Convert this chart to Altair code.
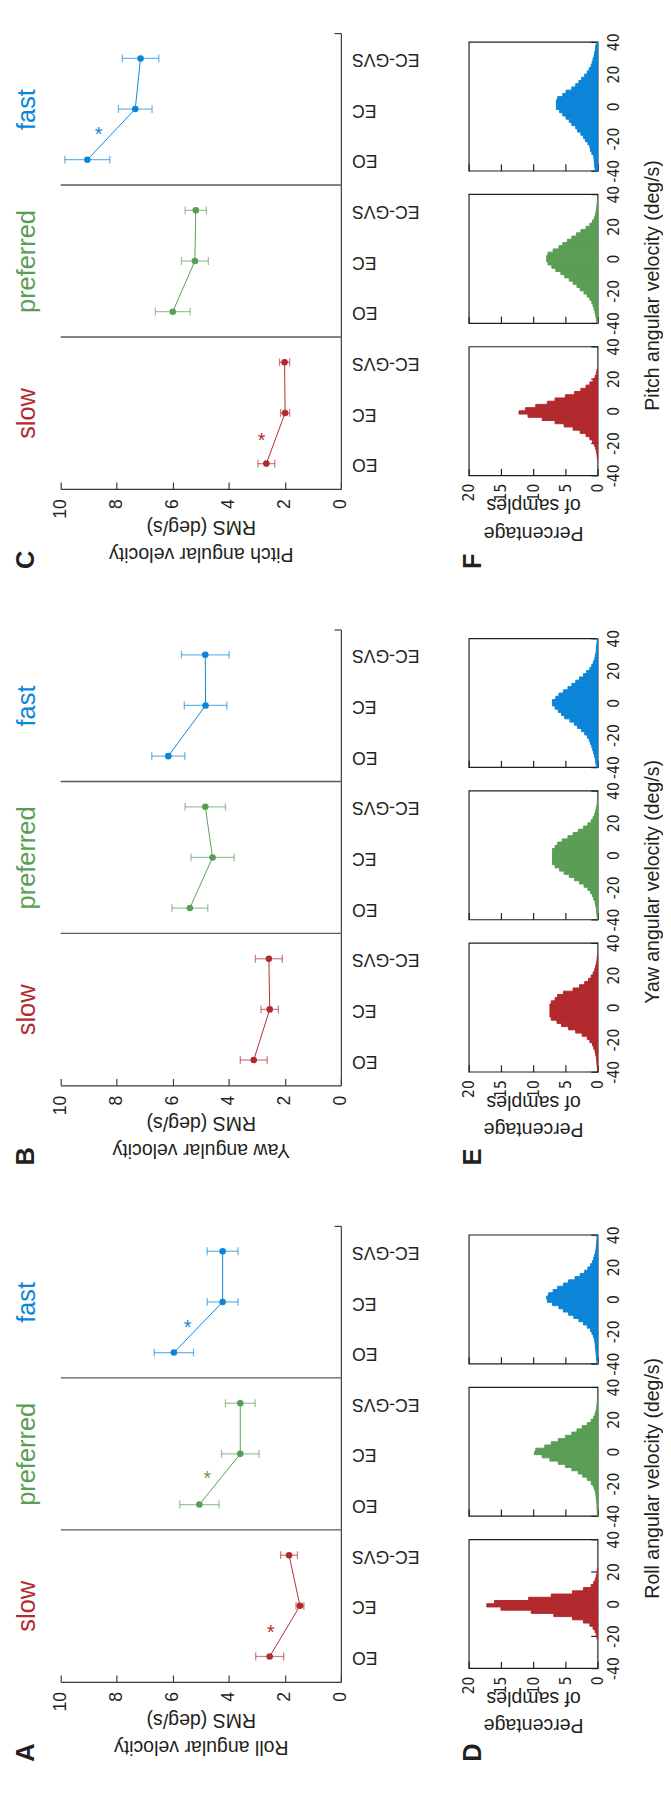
import altair as alt
import pandas as pd

FONT = "Liberation Sans"
NARROW = "Liberation Sans Narrow, DejaVu Sans Condensed, Liberation Sans"
INK = "#231F20"
AXIS = "#3A3A3A"

groups = ["slow", "preferred", "fast"]
conditions = ["EO", "EC", "EC-GVS"]
group_colors = ["#B2292E", "#5A9E55", "#0B85D7"]

# RMS angular velocity (deg/s): order slow EO, EC, EC-GVS, preferred EO, EC, EC-GVS, fast EO, EC, EC-GVS
roll_mean = [2.54, 1.46, 1.85, 5.05, 3.59, 3.59, 5.96, 4.22, 4.22]
roll_err = [0.50, 0.14, 0.30, 0.70, 0.67, 0.53, 0.70, 0.55, 0.55]
yaw_mean = [3.11, 2.54, 2.57, 5.39, 4.58, 4.84, 6.16, 4.83, 4.84]
yaw_err = [0.48, 0.31, 0.48, 0.64, 0.77, 0.72, 0.59, 0.76, 0.85]
pitch_mean = [2.66, 1.99, 2.01, 6.00, 5.21, 5.18, 9.05, 7.34, 7.15]
pitch_err = [0.30, 0.16, 0.18, 0.62, 0.48, 0.38, 0.80, 0.60, 0.65]

# significance markers: group, value, position
roll_star_group = ["slow", "preferred", "fast"]
roll_star_x = [2.50, 4.77, 5.47]
roll_star_y = [0.56, 3.60, 6.58]
pitch_star_group = ["slow", "fast"]
pitch_star_x = [2.83, 8.65]
pitch_star_y = [0.54, 6.59]

# histogram bins (deg/s, 2 deg/s wide from -40 to 40) and percentage of samples per bin
BIN_EDGES = list(range(-40, 41, 2))
roll_slow = [0, 0, 0, 0, 0, 0, 0, 0, 0, 0.1, 0.2, 0.4, 0.7, 1.2, 2.2, 3.9, 6.8, 10.3, 15.0, 17.2,
             16.0, 10.7, 7.2, 3.9, 2.2, 1.0, 0.6, 0.35, 0.2, 0.1, 0.05, 0, 0, 0, 0, 0, 0, 0, 0, 0]
roll_pref = [0.05, 0.05, 0.1, 0.1, 0.15, 0.2, 0.25, 0.35, 0.5, 0.7, 1.0, 1.6, 2.3, 3.0, 4.0, 5.0, 6.1, 7.4, 8.6, 9.8,
             9.6, 8.2, 7.2, 6.1, 5.0, 4.0, 3.2, 2.4, 1.6, 1.0, 0.6, 0.4, 0.25, 0.15, 0.1, 0.05, 0, 0, 0, 0]
roll_fast = [0.1, 0.15, 0.2, 0.25, 0.3, 0.35, 0.4, 0.5, 0.65, 0.86, 1.1, 1.6, 2.2, 2.9, 3.7, 4.5, 5.3, 6.0, 7.0, 7.8,
             7.9, 7.6, 6.9, 6.2, 5.3, 4.5, 3.5, 2.7, 2.0, 1.5, 1.1, 0.8, 0.6, 0.45, 0.3, 0.25, 0.2, 0.15, 0.1, 0.1]
yaw_slow = [0, 0.05, 0.1, 0.15, 0.2, 0.3, 0.4, 0.6, 0.8, 1.2, 1.6, 2.4, 3.4, 4.5, 5.6, 6.3, 7.2, 7.4, 7.4, 7.4,
            7.4, 7.2, 6.6, 6.2, 5.3, 3.8, 2.8, 2.0, 1.4, 1.0, 0.7, 0.45, 0.3, 0.2, 0.1, 0.05, 0, 0, 0, 0]
yaw_pref = [0.05, 0.1, 0.15, 0.2, 0.3, 0.4, 0.6, 0.8, 1.1, 1.5, 2.1, 2.8, 3.6, 4.4, 5.2, 5.9, 6.6, 7.0, 7.0, 7.0,
            7.0, 7.0, 6.6, 6.2, 5.5, 4.6, 3.8, 3.0, 2.2, 1.5, 1.0, 0.7, 0.45, 0.3, 0.2, 0.1, 0.05, 0, 0, 0]
yaw_fast = [0.2, 0.3, 0.35, 0.45, 0.6, 0.75, 0.9, 1.1, 1.3, 1.6, 2.0, 2.5, 3.1, 3.6, 4.3, 5.1, 5.6, 6.1, 6.6, 7.0,
            7.0, 6.5, 6.0, 5.3, 4.6, 4.0, 3.4, 2.8, 2.2, 1.7, 1.2, 0.9, 0.65, 0.45, 0.35, 0.25, 0.2, 0.15, 0.1, 0.05]
pitch_slow = [0, 0, 0, 0, 0, 0.05, 0.1, 0.2, 0.3, 0.5, 0.8, 1.2, 1.8, 2.7, 3.8, 5.2, 6.6, 8.6, 10.8, 12.2,
              11.2, 9.6, 7.8, 6.6, 5.0, 3.6, 2.6, 1.8, 1.2, 0.7, 0.4, 0.2, 0.1, 0, 0, 0, 0, 0, 0, 0]
pitch_pref = [0.15, 0.2, 0.3, 0.4, 0.55, 0.7, 0.9, 1.2, 1.6, 2.1, 2.7, 3.2, 3.8, 4.4, 5.1, 5.7, 6.5, 7.1, 7.7, 7.9,
              7.9, 7.7, 6.9, 6.0, 5.4, 4.7, 4.0, 3.3, 2.6, 1.8, 1.2, 0.8, 0.5, 0.35, 0.25, 0.15, 0.1, 0.05, 0, 0]
pitch_fast = [0.4, 0.45, 0.5, 0.55, 0.6, 0.9, 1.1, 1.2, 1.5, 1.9, 2.2, 2.6, 3.1, 3.4, 4.0, 4.4, 4.9, 5.4, 5.9, 6.4,
              6.4, 6.4, 6.2, 5.4, 4.9, 4.0, 3.4, 2.9, 2.5, 2.0, 1.6, 1.3, 1.0, 0.85, 0.7, 0.55, 0.45, 0.35, 0.3, 0.2]

HYPHEN_LABEL = "datum.value < 0 ? '-' + abs(datum.value) : '' + datum.value"


def rms_panel(means, errs, star_g, star_x, star_y, quantity, letter):
    df = pd.DataFrame({
        "group": [g for g in groups for _ in conditions],
        "cond": conditions * 3,
        "pos": list(range(9)),
        "mean": means,
        "lo": [m - e for m, e in zip(means, errs)],
        "hi": [m + e for m, e in zip(means, errs)],
    })
    sep_df = pd.DataFrame({"sep": [2.5, 5.5]})
    star_df = pd.DataFrame({"group": star_g, "sx": star_x, "sy": star_y})

    xs = alt.Scale(domain=[0, 10], reverse=True, nice=False, zero=False)
    ys = alt.Scale(domain=[-0.5, 8.5], nice=False, zero=False)
    color = alt.Color("group:N", scale=alt.Scale(domain=groups, range=group_colors), legend=None)

    x_main = alt.Axis(orient="bottom", values=[0, 2, 4, 6, 8, 10], offset=-7, ticks=True, tickSize=7,
                      tickColor=AXIS, tickWidth=1.2, domain=False, grid=False, labelAngle=270,
                      labelAlign="right", labelBaseline="middle", labelFontSize=18, labelPadding=10,
                      labelFlush=False, labelOverlap=False,
                      title=[quantity, "RMS (deg/s)"], titleAngle=180, titleAlign="center",
                      titleBaseline="bottom", titleFontSize=20, titleFontWeight="normal",
                      titleY=63, titleLineHeight=28)
    x_line = alt.Axis(orient="bottom", domain=True, domainColor=AXIS, domainWidth=1.2, ticks=False,
                      labels=False, grid=False, title=None)
    y_cat = alt.Axis(orient="right", values=list(range(9)),
                     labelExpr="['EO','EC','EC-GVS'][datum.value % 3]", labelAngle=180,
                     labelAlign="right", labelBaseline="middle", labelFontSize=18, labelPadding=11,
                     labelFlush=False, labelOverlap=False, ticks=False, tickSize=0, domain=True,
                     domainColor=AXIS, domainWidth=1.2, grid=False, title=None)
    y_group = alt.Axis(orient="left", values=[1, 4, 7],
                       labelExpr="datum.value == 1 ? 'slow' : datum.value == 4 ? 'preferred' : 'fast'",
                       labelColor={"condition": [{"test": "datum.value == 1", "value": group_colors[0]},
                                                 {"test": "datum.value == 4", "value": group_colors[1]}],
                                   "value": group_colors[2]},
                       labelAngle=270, labelAlign="center", labelBaseline="alphabetic",
                       labelFontSize=26, labelPadding=27, labelFlush=False, labelOverlap=False,
                       ticks=False, tickSize=0, domain=False, grid=False, title=None)
    y_end = alt.Axis(orient="right", values=[8.5], offset=-7, ticks=True, tickSize=7, tickColor=AXIS,
                     tickWidth=1.2, labels=False, domain=False, grid=False, title=None)

    base = alt.Chart(df)
    seps = alt.Chart(sep_df).mark_rule(color="#5A5A5A", strokeWidth=1.4).encode(
        y=alt.Y("sep:Q", scale=ys, axis=y_group))
    bars = base.mark_rule(strokeWidth=1.3, opacity=0.6).encode(
        x=alt.X("lo:Q", scale=xs, axis=x_main), x2="hi:Q",
        y=alt.Y("pos:Q", scale=ys, axis=y_cat), color=color)
    caps = base.transform_fold(["lo", "hi"], as_=["end", "val"]).mark_tick(
        orient="vertical", size=8, thickness=1.3, opacity=0.6).encode(
        x=alt.X("val:Q", scale=xs, axis=None), y=alt.Y("pos:Q", scale=ys, axis=None), color=color)
    line = base.mark_line(strokeWidth=1).encode(
        x=alt.X("mean:Q", scale=xs, axis=x_line), y=alt.Y("pos:Q", scale=ys, axis=y_end),
        color=color, order="pos:Q")
    pts = base.mark_circle(size=45, opacity=1).encode(
        x=alt.X("mean:Q", scale=xs, axis=None), y=alt.Y("pos:Q", scale=ys, axis=None), color=color)
    layers = [seps, bars, caps, line, pts]
    if len(star_df):
        stars = alt.Chart(star_df).mark_text(text="*", fontSize=20, baseline="middle", dy=5).encode(
            x=alt.X("sx:Q", scale=xs, axis=None), y=alt.Y("sy:Q", scale=ys, axis=None), color=color)
        layers.append(stars)
    return alt.layer(*layers).resolve_axis(x="independent", y="independent").properties(
        width=287, height=467,
        title=alt.TitleParams(letter, orient="bottom", anchor="start", angle=270, fontSize=26,
                              fontWeight="bold", color=INK, offset=6))


def hist(vals, color, show_labels, vel_title=None, letter=None):
    df = pd.DataFrame({"lo": BIN_EDGES[:-1], "hi": BIN_EDGES[1:], "pct": vals})
    df["zero"] = 0
    xargs = dict(orient="bottom", values=[0, 5, 10, 15, 20], offset=-7, ticks=True, tickSize=7,
                 tickColor=INK, tickWidth=1.2, domain=False, grid=False, labels=show_labels,
                 labelAngle=270, labelAlign="right", labelBaseline="middle", labelFont=NARROW,
                 labelFontSize=16, labelPadding=8, labelFlush=False, labelOverlap=False)
    if show_labels:
        xargs.update(title=["Percentage", "of samples"], titleAngle=180, titleAlign="center",
                     titleBaseline="bottom", titleFontSize=20, titleFontWeight="normal",
                     titleY=55, titleLineHeight=28)
    else:
        xargs.update(title=None)
    yargs = dict(orient="right", values=[-40, -20, 0, 20, 40], offset=-7, ticks=True, tickSize=7,
                 tickColor=INK, tickWidth=1.2, domain=False, grid=False, labelAngle=270,
                 labelAlign="center", labelBaseline="top", labelFont=NARROW, labelFontSize=16,
                 labelPadding=8, labelFlush=False, labelOverlap=False, labelExpr=HYPHEN_LABEL)
    if vel_title:
        yargs.update(title=vel_title, titleAngle=270, titleAlign="center", titleBaseline="alphabetic",
                     titleFontSize=20, titleFontWeight="normal", titleX=69, titleY=93)
    else:
        yargs.update(title=None)
    ch = alt.Chart(df).transform_filter("datum.pct > 0").mark_rect(
        color=color, stroke=color, strokeWidth=1).encode(
        x=alt.X("pct:Q", scale=alt.Scale(domain=[0, 20], reverse=True, nice=False, zero=False),
                axis=alt.Axis(**xargs)),
        x2="zero:Q",
        y=alt.Y("lo:Q", scale=alt.Scale(domain=[-40, 40], nice=False, zero=False), axis=alt.Axis(**yargs)),
        y2="hi:Q",
    )
    props = dict(width=132, height=132, view=alt.ViewBackground(stroke=INK, strokeWidth=1.2))
    if letter:
        props["title"] = alt.TitleParams(letter, orient="bottom", anchor="start", angle=270,
                                         fontSize=26, fontWeight="bold", color=INK, offset=28)
    return ch.properties(**props)


def spacer(h):
    return alt.Chart(pd.DataFrame({"v": [0]})).mark_point(opacity=0).properties(width=132, height=h)


panel_c = rms_panel(pitch_mean, pitch_err, pitch_star_group, pitch_star_x, pitch_star_y,
                    "Pitch angular velocity", "C")
panel_b = rms_panel(yaw_mean, yaw_err, [], [], [], "Yaw angular velocity", "B")
panel_a = rms_panel(roll_mean, roll_err, roll_star_group, roll_star_x, roll_star_y,
                    "Roll angular velocity", "A")
left = alt.vconcat(panel_c, panel_b, panel_a, spacing=144, bounds="flush")

right_items = [spacer(9)]
hist_sets = [
    (pitch_slow, pitch_pref, pitch_fast, "Pitch angular velocity (deg/s)", "F"),
    (yaw_slow, yaw_pref, yaw_fast, "Yaw angular velocity (deg/s)", "E"),
    (roll_slow, roll_pref, roll_fast, "Roll angular velocity (deg/s)", "D"),
]
for k, (s, p, f, vt, let) in enumerate(hist_sets):
    if k > 0:
        right_items.append(spacer(167))
    right_items += [
        hist(f, group_colors[2], False), spacer(24),
        hist(p, group_colors[1], False, vel_title=vt), spacer(24),
        hist(s, group_colors[0], True, letter=let),
    ]
right = alt.vconcat(*right_items, spacing=0, bounds="flush")

chart = alt.hconcat(left, right, spacing=41).properties(
    padding={"left": 5, "top": 2, "right": 0, "bottom": 0}
).configure_view(stroke="transparent").configure_axis(
    labelFont=FONT, titleFont=FONT, labelColor=INK, titleColor=INK
).configure_title(font=FONT)

chart.save("out.html", embed_options={"renderer": "svg", "actions": False})
